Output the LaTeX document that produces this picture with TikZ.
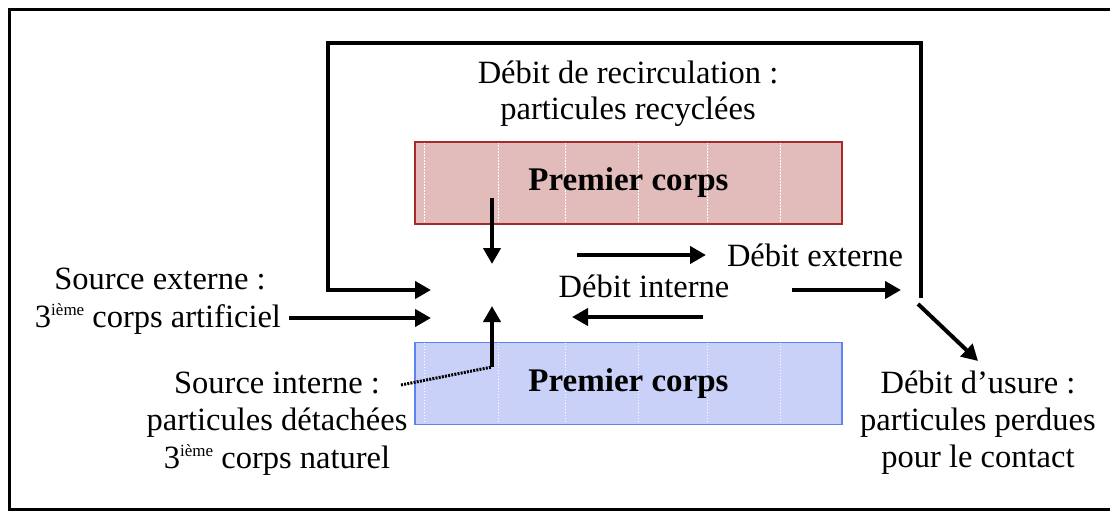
\documentclass[tikz,border=0pt]{standalone}
\usepackage{fontspec}
\setmainfont{Liberation Serif}
\usetikzlibrary{arrows.meta}
\definecolor{redfill}{HTML}{E2BBBB}
\definecolor{redline}{HTML}{A52A2A}
\definecolor{bluefill}{HTML}{C9D1F9}
\definecolor{blueline}{HTML}{5B84F0}
\newcommand{\myieme}{\raisebox{12pt}{\fontsize{17}{17}\selectfont ième}}
\begin{document}
\begin{tikzpicture}[x=1pt,y=-1pt,
  txt/.style={font=\fontsize{32.5}{37}\selectfont, inner sep=0pt, anchor=base},
  flow/.style={line width=4pt, line join=miter, -{Triangle[length=16pt,width=17pt]}},
  dotline/.style={line width=3pt, dash pattern=on 2pt off 1.2pt},
  corps/.style={rectangle, minimum width=427pt, minimum height=82pt, inner sep=0pt,
    line width=1.6pt, font=\fontsize{33}{37}\selectfont\bfseries,
    path picture={\foreach \px in {9,83,150,223,292,365}{
      \draw[white, line width=1pt, dash pattern=on 1.5pt off 1.5pt]
        ([xshift=\px pt]path picture bounding box.north west) --
        ([xshift=\px pt]path picture bounding box.south west);}}},
]
\useasboundingbox (0,0) rectangle (1110,511);
\fill[white] (0,0) rectangle (1110,511);
% outer frame (right edge lies outside the picture)
\draw[line width=3pt] (1125,10) -- (9,10) -- (9,509) -- (1125,509);

% bodies
\node[corps, fill=redfill, draw=redline] (top) at (628.5,183) {Premier corps};
\node[corps, fill=bluefill, draw=blueline] (bot) at (628.5,383.5) {Premier corps};

% texts
\node[txt] (rec1) at (628,83) {Débit de recirculation :};
\node[txt] (rec2) at (628,119) {particules recyclées};
\node[txt] (se1) at (160,289) {Source externe :};
\node[txt] (se2) at (158,327) {3\myieme\ corps artificiel};
\node[txt] (si1) at (277,393) {Source interne :};
\node[txt] (si2) at (277,430) {particules détachées};
\node[txt] (si3) at (277,468) {3\myieme\ corps naturel};
\node[txt] (dext) at (815,266) {Débit externe};
\node[txt] (dint) at (644,297) {Débit interne};
\node[txt] (us1) at (978,393) {Débit d’usure :};
\node[txt] (us2) at (978,430) {particules perdues};
\node[txt] (us3) at (978,467) {pour le contact};

% coordinates
\coordinate (loopstart) at (921,298);
\coordinate (tr) at (921,43);
\coordinate (tl) at (328,43);
\coordinate (lb) at (328,290);
\coordinate (recin) at (431,290);
\coordinate (sein) at (431,318);
\coordinate (upbase) at (492,367);
\coordinate (uptip) at (492,306);
\coordinate (dotstart) at (401,385);
\coordinate (downbase) at (492,198);
\coordinate (downtip) at (492,264);
\coordinate (ext1) at (577,255);
\coordinate (ext2) at (706,255);
\coordinate (out1) at (792,290);
\coordinate (out2) at (901,290);
\coordinate (int1) at (703,317);
\coordinate (int2) at (572,317);
\coordinate (wear1) at (918,304);
\coordinate (wear2) at (978,361);

% connectors
\draw[flow] (loopstart) -- (tr) -- (tl) -- (lb) -- (recin);
\draw[flow] ([xshift=8pt]se2.east |- sein) -- (sein);
\draw[dotline] (dotstart) -- (upbase);
\draw[flow] (upbase) -- (uptip);
\draw[flow] (downbase) -- (downtip);
\draw[flow] (ext1) -- (ext2);
\draw[flow] (out1) -- (out2);
\draw[flow] (int1) -- (int2);
\draw[flow] (wear1) -- (wear2);
\end{tikzpicture}
\end{document}
